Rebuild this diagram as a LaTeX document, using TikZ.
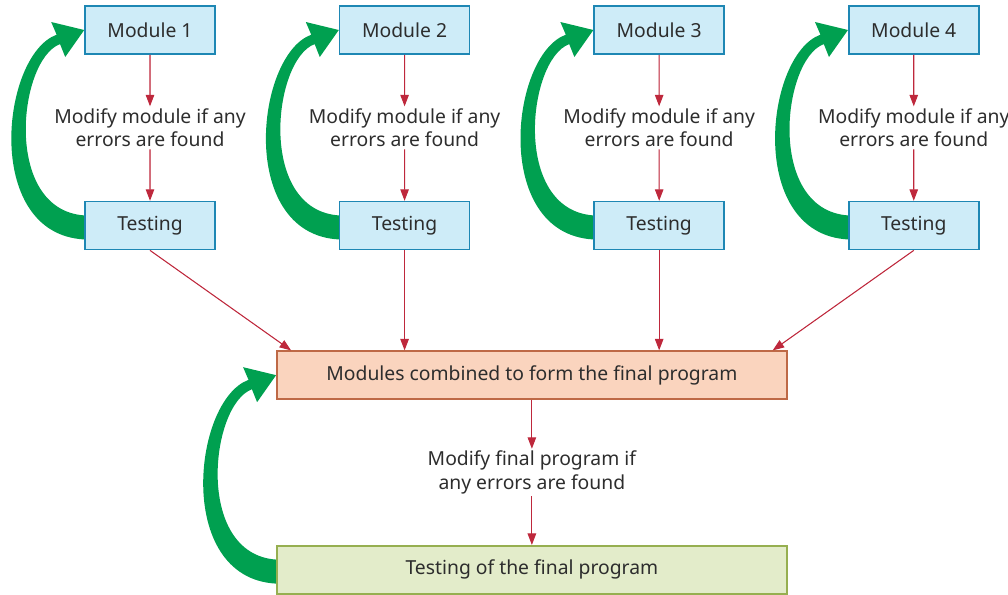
\documentclass[tikz,border=0pt]{standalone}
\usepackage{fontspec}
\setmainfont{Noto Sans}
\usepackage{xcolor}
\usetikzlibrary{arrows.meta,positioning,calc,backgrounds}
\definecolor{modfill}{RGB}{206,236,248}
\definecolor{moddraw}{RGB}{30,135,180}
\definecolor{combfill}{RGB}{250,212,190}
\definecolor{combdraw}{RGB}{190,105,70}
\definecolor{finalfill}{RGB}{227,236,202}
\definecolor{finaldraw}{RGB}{150,175,80}
\definecolor{loopgreen}{RGB}{0,160,80}
\definecolor{flowred}{RGB}{190,40,60}
\definecolor{textgray}{RGB}{45,45,45}
% green feedback loop from a testing box (#2) back to the box it checks (#1)
\newcommand{\fixloop}[2]{%
  \fill[loopgreen] ([shift={(0.1,-0.28)}]#2.west)
      .. controls +(-2.15,0) and +(-1.13,-0.41) .. ([shift={(-0.551,-0.094)}]#1.west)
      -- ([shift={(-0.66,0.16)}]#1.west) -- (#1.west)
      -- ([shift={(-0.38,-0.54)}]#1.west) -- ([shift={(-0.483,-0.282)}]#1.west)
      .. controls +(-0.85,-0.31) and +(-1.75,0) .. ([shift={(0.1,0.2)}]#2.west) -- cycle;}

\begin{document}
\begin{tikzpicture}[
    node distance=0.35cm,
    modbox/.style={rectangle,draw=moddraw,fill=modfill,line width=0.9pt,
      minimum width=2.6cm,minimum height=0.96cm,inner sep=0pt,text=textgray,
      font=\fontsize{11}{13.5}\selectfont},
    combbox/.style={rectangle,draw=combdraw,fill=combfill,line width=0.9pt,
      minimum width=10.2cm,minimum height=0.96cm,inner sep=0pt,text=textgray,
      font=\fontsize{11}{13.5}\selectfont},
    finalbox/.style={combbox,draw=finaldraw,fill=finalfill},
    note/.style={align=center,inner sep=1pt,text=textgray,
      font=\fontsize{11}{13.5}\selectfont},
    arrow/.style={-{Triangle[length=2.3mm,width=1.7mm]},draw=flowred,fill=flowred,line width=0.6pt}
  ]
    \useasboundingbox (0,0) rectangle (20.16,-11.88);

    \node[modbox] (mod1) at (3.0,-0.6) {Module 1};
    \node[modbox,right=2.46cm of mod1] (mod2) {Module 2};
    \node[modbox,right=2.46cm of mod2] (mod3) {Module 3};
    \node[modbox,right=2.46cm of mod3] (mod4) {Module 4};

    \node[modbox,below=2.92cm of mod1] (test1) {Testing};
    \node[modbox,below=2.92cm of mod2] (test2) {Testing};
    \node[modbox,below=2.92cm of mod3] (test3) {Testing};
    \node[modbox,below=2.92cm of mod4] (test4) {Testing};

    \node[note] (note1) at ($(mod1.south)!0.5!(test1.north)$) {Modify module if any\\errors are found};
    \node[note] (note2) at ($(mod2.south)!0.5!(test2.north)$) {Modify module if any\\errors are found};
    \node[note] (note3) at ($(mod3.south)!0.5!(test3.north)$) {Modify module if any\\errors are found};
    \node[note] (note4) at ($(mod4.south)!0.5!(test4.north)$) {Modify module if any\\errors are found};

    \coordinate (mid) at ($(test2.south)!0.5!(test3.south)$);
    \node[combbox,below=2.0cm of mid] (comb) {Modules combined to form the final program};
    \node[finalbox,below=2.9cm of comb] (final) {Testing of the final program};
    \node[note] (notefinal) at ($(comb.south)!0.5!(final.north)$) {Modify final program if\\any errors are found};

    \draw[arrow] (mod1) -- (note1);
    \draw[arrow] (note1) -- (test1);
    \draw[arrow] (mod2) -- (note2);
    \draw[arrow] (note2) -- (test2);
    \draw[arrow] (mod3) -- (note3);
    \draw[arrow] (note3) -- (test3);
    \draw[arrow] (mod4) -- (note4);
    \draw[arrow] (note4) -- (test4);

    \draw[arrow] (test1.south) -- ([xshift=0.3cm]comb.north west);
    \draw[arrow] (test2.south) -- (test2.south |- comb.north);
    \draw[arrow] (test3.south) -- (test3.south |- comb.north);
    \draw[arrow] (test4.south) -- ([xshift=-0.3cm]comb.north east);

    \draw[arrow] (comb) -- (notefinal);
    \draw[arrow] (notefinal) -- (final);

    \begin{scope}[on background layer]
      \fixloop{mod1}{test1}
      \fixloop{mod2}{test2}
      \fixloop{mod3}{test3}
      \fixloop{mod4}{test4}
      \fixloop{comb}{final}
    \end{scope}
  \end{tikzpicture}
\end{document}
